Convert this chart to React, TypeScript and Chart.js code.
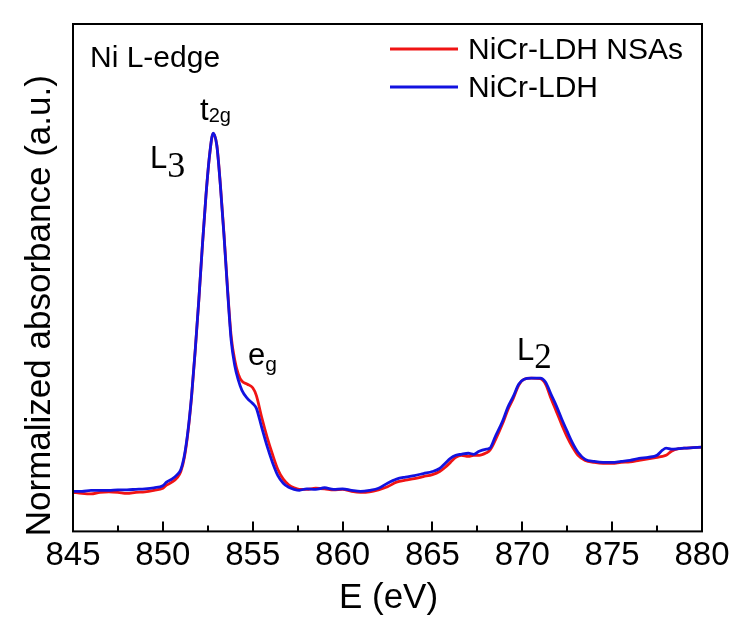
import React, { useEffect, useRef } from 'react';
import { Chart, registerables } from 'chart.js';

Chart.register(...registerables);

// ---- data ----
const energies = [
  845, 845.5, 846, 846.5, 847, 847.5, 848, 848.5, 849, 849.5,
  850, 850.2, 850.5, 850.8, 851, 851.2, 851.4, 851.6, 851.8, 852,
  852.2, 852.4, 852.6, 852.8, 853, 853.2, 853.4, 853.6, 853.8, 854,
  854.2, 854.4, 854.7, 855, 855.2, 855.5, 855.8, 856.1, 856.4, 856.7,
  857, 857.3, 857.6, 858, 858.5, 859, 859.5, 860, 860.5, 861,
  861.5, 862, 862.5, 863, 863.5, 864, 864.5, 865, 865.4, 865.7,
  866, 866.3, 866.6, 867, 867.3, 867.6, 868, 868.2, 868.5, 868.9,
  869.2, 869.5, 869.8, 870.1, 870.5, 871, 871.3, 871.6, 871.9, 872.2,
  872.5, 872.8, 873.1, 873.5, 874, 874.5, 875, 875.5, 876, 876.5,
  877, 877.5, 877.8, 878, 878.3, 878.7, 879, 879.5, 880,
];

const nicrLdhNSAs = [
  0.077, 0.075, 0.074, 0.077, 0.078, 0.077, 0.075, 0.077, 0.078, 0.081,
  0.085, 0.091, 0.097, 0.106, 0.118, 0.146, 0.196, 0.266, 0.356, 0.455,
  0.563, 0.662, 0.741, 0.784, 0.762, 0.684, 0.587, 0.478, 0.385, 0.338,
  0.310, 0.296, 0.290, 0.283, 0.268, 0.225, 0.186, 0.152, 0.122, 0.103,
  0.092, 0.086, 0.083, 0.083, 0.085, 0.084, 0.082, 0.083, 0.079, 0.077,
  0.078, 0.082, 0.088, 0.097, 0.101, 0.104, 0.108, 0.112, 0.118, 0.126,
  0.136, 0.146, 0.150, 0.148, 0.150, 0.150, 0.155, 0.160, 0.180, 0.212,
  0.240, 0.262, 0.288, 0.300, 0.302, 0.301, 0.290, 0.262, 0.236, 0.210,
  0.186, 0.166, 0.150, 0.140, 0.136, 0.134, 0.134, 0.136, 0.137, 0.140,
  0.143, 0.146, 0.148, 0.150, 0.158, 0.163, 0.164, 0.165, 0.166,
];

const nicrLdh = [
  0.079, 0.079, 0.081, 0.081, 0.081, 0.082, 0.082, 0.083, 0.084, 0.086,
  0.090, 0.097, 0.103, 0.112, 0.122, 0.150, 0.199, 0.268, 0.357, 0.456,
  0.564, 0.663, 0.742, 0.785, 0.761, 0.682, 0.584, 0.475, 0.377, 0.327,
  0.298, 0.278, 0.262, 0.252, 0.243, 0.205, 0.168, 0.136, 0.110, 0.095,
  0.087, 0.083, 0.081, 0.084, 0.083, 0.086, 0.083, 0.084, 0.081, 0.079,
  0.081, 0.085, 0.095, 0.103, 0.107, 0.110, 0.114, 0.118, 0.124, 0.134,
  0.144, 0.150, 0.152, 0.154, 0.152, 0.158, 0.162, 0.164, 0.187, 0.217,
  0.245, 0.266, 0.290, 0.300, 0.302, 0.302, 0.294, 0.270, 0.247, 0.221,
  0.197, 0.174, 0.156, 0.142, 0.138, 0.136, 0.136, 0.138, 0.140, 0.144,
  0.146, 0.150, 0.160, 0.164, 0.162, 0.163, 0.164, 0.165, 0.166,
];

const seriesLabels = ['NiCr-LDH NSAs', 'NiCr-LDH'];
const seriesColors = ['#f01414', '#1212e0'];

const xMin = 845;
const xMax = 880;
const xMajorStep = 5;
const xMinorStep = 2.5;
const yMin = 0;
const yMax = 1;

const xTitle = 'E (eV)';
const yTitle = 'Normalized absorbance (a.u.)';
const edgeLabel = 'Ni L-edge';

// peak annotations: main text + subscript, anchored in data units (left, baseline)
const peakMain = ['L', 't', 'e', 'L'];
const peakSub = ['3', '2g', 'g', '2'];
const peakE = [849.28, 852.07, 854.74, 869.71];
const peakV = [0.716, 0.811, 0.327, 0.337];

const SANS = '"Liberation Sans", Arial, Helvetica, sans-serif';
const SERIF = '"Liberation Serif", "Times New Roman", serif';

// style of each annotation's subscript (font, size, baseline shift in px)
const subStyle = [
  { family: SERIF, size: 36, dy: 9 },
  { family: SANS, size: 20, dy: 2 },
  { family: SANS, size: 21, dy: 6 },
  { family: SERIF, size: 35, dy: 8 },
];

const decorPlugin = {
  id: 'decor',
  afterDatasetsDraw(chart: any) {
    const { ctx, chartArea: a, scales } = chart;
    const x = scales.x;
    const y = scales.y;
    ctx.save();
    ctx.fillStyle = '#000';
    ctx.strokeStyle = '#000';
    ctx.lineWidth = 2;
    // frame
    ctx.strokeRect(a.left, a.top, a.right - a.left, a.bottom - a.top);
    // inward ticks on bottom axis
    for (let v = xMin; v <= xMax + 1e-9; v += xMinorStep) {
      const px = Math.round(x.getPixelForValue(v));
      const major = Math.abs(v / xMajorStep - Math.round(v / xMajorStep)) < 1e-6;
      ctx.beginPath();
      ctx.moveTo(px, a.bottom);
      ctx.lineTo(px, a.bottom - (major ? 10 : 6));
      ctx.stroke();
    }
    // edge label
    ctx.textBaseline = 'alphabetic';
    ctx.textAlign = 'left';
    ctx.font = `30px ${SANS}`;
    ctx.fillText(edgeLabel, a.left + 17, a.top + 43);

    // legend
    const lx1 = a.right - 312;
    const lx2 = a.right - 244;
    const rows = [a.top + 25, a.top + 63];
    seriesLabels.forEach((lab, i) => {
      ctx.strokeStyle = seriesColors[i];
      ctx.lineWidth = 2.8;
      ctx.beginPath();
      ctx.moveTo(lx1, rows[i]);
      ctx.lineTo(lx2, rows[i]);
      ctx.stroke();
      ctx.fillStyle = '#000';
      ctx.font = `30px ${SANS}`;
      ctx.fillText(lab, a.right - 234, rows[i] + 10);
    });

    // peak annotations
    peakMain.forEach((m, i) => {
      const px = x.getPixelForValue(peakE[i]);
      const py = y.getPixelForValue(peakV[i]);
      ctx.font = `31px ${SANS}`;
      ctx.fillStyle = '#000';
      ctx.fillText(m, px, py);
      const w = ctx.measureText(m).width;
      const s = subStyle[i];
      ctx.font = `${s.size}px ${s.family}`;
      ctx.fillText(peakSub[i], px + w, py + s.dy);
    });

    // axis titles
    ctx.font = `35px ${SANS}`;
    ctx.textAlign = 'center';
    ctx.fillText(xTitle, (a.left + a.right) / 2 + 1, a.bottom + 77);
    ctx.save();
    ctx.translate(50, (a.top + a.bottom) / 2 + 28);
    ctx.rotate(-Math.PI / 2);
    ctx.font = `35px ${SANS}`;
    ctx.fillText(yTitle, 0, 0);
    ctx.restore();
    ctx.restore();
  },
};

export default function App() {
  const ref = useRef<HTMLCanvasElement | null>(null);
  useEffect(() => {
    if (!ref.current) return;
    const toPts = (vals: number[]) => energies.map((e, i) => ({ x: e, y: vals[i] }));
    const chart = new Chart(ref.current, {
      type: 'line',
      data: {
        datasets: [
          {
            label: seriesLabels[0],
            data: toPts(nicrLdhNSAs),
            borderColor: seriesColors[0],
            borderWidth: 2.8,
            pointRadius: 0,
            fill: false,
            cubicInterpolationMode: 'monotone',
            order: 1,
          },
          {
            label: seriesLabels[1],
            data: toPts(nicrLdh),
            borderColor: seriesColors[1],
            borderWidth: 2.8,
            pointRadius: 0,
            fill: false,
            cubicInterpolationMode: 'monotone',
            order: 0,
          },
        ],
      },
      options: {
        animation: false,
        responsive: false,
        maintainAspectRatio: false,
        layout: { padding: { left: 73, right: 35, top: 24, bottom: 42 } },
        plugins: { legend: { display: false }, tooltip: { enabled: false } },
        scales: {
          x: {
            type: 'linear',
            min: xMin,
            max: xMax,
            grid: { display: false, drawTicks: false },
            border: { display: false },
            ticks: {
              stepSize: xMajorStep,
              padding: 5,
              maxRotation: 0,
              autoSkip: false,
              color: '#000',
              font: { size: 33, family: SANS },
            },
          },
          y: {
            display: false,
            min: yMin,
            max: yMax,
          },
        },
      },
      plugins: [decorPlugin],
    });
    return () => chart.destroy();
  }, []);
  return (
    <div style={{ position: 'absolute', left: 0, top: 0, width: 737, height: 623, background: '#fff' }}>
      <canvas ref={ref} width={737} height={623} style={{ display: 'block' }} />
    </div>
  );
}
